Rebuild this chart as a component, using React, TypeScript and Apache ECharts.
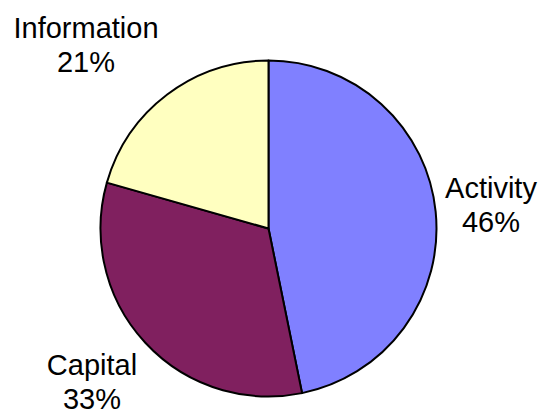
import React, { useEffect, useRef } from "react";
import * as echarts from "echarts";

const categories = ["Activity", "Capital", "Information"];
const values = [46.8, 32.6, 20.6];
const percentLabels = ["46%", "33%", "21%"];
const colors = ["#8080FF", "#80205F", "#FFFFC0"];
const labelCenters: [number, number][] = [
  [491, 205],
  [92, 382],
  [86, 45],
];

export default function App() {
  const ref = useRef<HTMLDivElement>(null);
  useEffect(() => {
    document.body.style.margin = "0";
    const chart = echarts.init(ref.current!, null, { renderer: "svg" });
    chart.setOption({
      animation: false,
      backgroundColor: "#ffffff",
      series: [
        {
          type: "pie",
          center: [268.5, 228.5],
          radius: 168,
          startAngle: 90,
          clockwise: true,
          silent: true,
          itemStyle: { borderColor: "#000000", borderWidth: 2 },
          label: {
            show: true,
            position: "outside",
            overflow: "none",
            fontFamily: "Liberation Sans, Arial, sans-serif",
            fontSize: 29,
            lineHeight: 34,
            color: "#000000",
            align: "center",
            formatter: (p: any) => `${p.name}\n${percentLabels[p.dataIndex]}`,
          },
          labelLine: { show: false },
          labelLayout: (p: any) => ({
            x: labelCenters[p.dataIndex][0],
            y: labelCenters[p.dataIndex][1],
            align: "center",
            verticalAlign: "middle",
          }),
          data: categories.map((c, i) => ({
            name: c,
            value: values[i],
            itemStyle: { color: colors[i] },
          })),
        },
      ],
    });
    return () => chart.dispose();
  }, []);
  return (
    <div
      ref={ref}
      style={{ position: "absolute", left: 0, top: 0, width: 538, height: 417 }}
    />
  );
}
